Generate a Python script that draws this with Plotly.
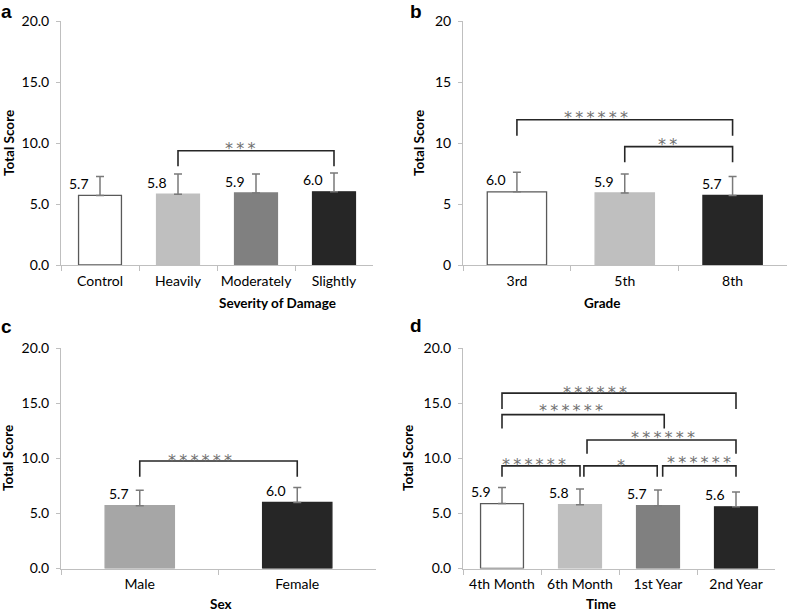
import plotly.graph_objects as go

W, H = 787, 612

# ---------------- data ----------------
cats_a = ["Control", "Heavily", "Moderately", "Slightly"]
vals_a = [5.7, 5.8, 5.9, 6.0]
sd_a = [1.55, 1.65, 1.55, 1.55]

cats_b = ["3rd", "5th", "8th"]
vals_b = [6.0, 5.9, 5.7]
sd_b = [1.6, 1.55, 1.55]

cats_c = ["Male", "Female"]
vals_c = [5.7, 6.0]
sd_c = [1.4, 1.35]

cats_d = ["4th Month", "6th Month", "1st Year", "2nd Year"]
vals_d = [5.9, 5.8, 5.7, 5.6]
sd_d = [1.45, 1.42, 1.43, 1.35]

# significance brackets: (left idx, right idx, line y, leg bottom y, stars, label x, label y)
sig_a = [(1, 3, 9.37, 8.1, "***", 1.79, 9.84)]
sig_b = [(0, 2, 11.9, 10.6, "******", 0.73, 12.38),
         (1, 2, 9.7, 8.42, "**", 1.40, 10.19)]
sig_c = [(0, 1, 9.77, 8.33, "******", 0.38, 10.2)]
sig_d = [(0, 3, 15.93, 14.49, "******", 1.19, 16.38),
         (0, 2.08, 13.98, 12.72, "******", 0.88, 14.67),
         (1.09, 3, 11.67, 10.43, "******", 2.07, 12.27),
         (0, 1, 9.32, 8.33, "******", 0.41, 9.84),
         (1.05, 1.99, 9.32, 8.33, "*", 1.52, 9.71),
         (2.06, 3, 9.32, 8.33, "******", 2.52, 10.02)]

# ---------------- style ----------------
colors_a = ["#ffffff", "#bfbfbf", "#808080", "#262626"]
colors_b = ["#ffffff", "#bfbfbf", "#262626"]
colors_c = ["#a6a6a6", "#262626"]
colors_d = ["#ffffff", "#bfbfbf", "#808080", "#262626"]

FONT = "Lato"
AX = "#bfbfbf"


def fx(px):
    return px / W


def fy(py):
    return 1 - py / H


panels = [
    dict(cats=cats_a, vals=vals_a, sd=sd_a, colors=colors_a, sig=sig_a, width=0.55,
         xd=[61, 373], yd=[265, 21], fmt=".1f", xtitle="Severity of Damage",
         xt=(217, 303), yt=(9, 143), letter="a", lt=(0, 0)),
    dict(cats=cats_b, vals=vals_b, sd=sd_b, colors=colors_b, sig=sig_b, width=0.55,
         xd=[463, 786.5], yd=[265, 21], fmt="d", xtitle="Grade",
         xt=(622, 303), yt=(419, 143), letter="b", lt=(409, 0)),
    dict(cats=cats_c, vals=vals_c, sd=sd_c, colors=colors_c, sig=sig_c, width=0.44,
         xd=[61, 376], yd=[568.5, 348.3], fmt=".1f", xtitle="Sex",
         xt=(208, 604), yt=(8, 458), letter="c", lt=(0, 315)),
    dict(cats=cats_d, vals=vals_d, sd=sd_d, colors=colors_d, sig=sig_d, width=0.55,
         xd=[463, 775], yd=[568.5, 348.3], fmt=".1f", xtitle="Time",
         xt=(618, 604), yt=(408, 458), letter="d", lt=(409, 314)),
]

fig = go.Figure()
annotations = []
shapes = []

for i, p in enumerate(panels):
    n = i + 1
    xa = "x" if n == 1 else f"x{n}"
    ya = "y" if n == 1 else f"y{n}"
    line_cols = ["#595959" if c == "#ffffff" else c for c in p["colors"]]
    fig.add_trace(go.Bar(
        x=p["cats"], y=p["vals"], width=p["width"],
        marker=dict(color=p["colors"], line=dict(color=line_cols, width=1.3)),
        error_y=dict(type="data", array=p["sd"], arrayminus=[0] * len(p["sd"]),
                     symmetric=False, color="#7a7a7a", thickness=1.5, width=4),
        xaxis=xa, yaxis=ya, showlegend=False, hoverinfo="x+y",
    ))

    xkey = "xaxis" if n == 1 else f"xaxis{n}"
    ykey = "yaxis" if n == 1 else f"yaxis{n}"
    fig.layout[xkey] = dict(
        domain=[fx(p["xd"][0]), fx(p["xd"][1])], anchor=ya, type="category",
        range=[-0.5, len(p["cats"]) - 0.5], showline=True, linecolor=AX, linewidth=1,
        ticks="outside", tickson="boundaries", ticklen=5, tickcolor=AX,
        showgrid=False, zeroline=False, automargin=False, tickangle=0,
        ticklabelstandoff=3,
        tickfont=dict(family=FONT, size=14, color="#000000"),
    )
    fig.layout[ykey] = dict(
        domain=[fy(p["yd"][0]), fy(p["yd"][1])], anchor=xa, range=[0, 20],
        tick0=0, dtick=5, tickformat=p["fmt"], showline=True, linecolor=AX,
        linewidth=1, ticks="outside", ticklen=4, tickcolor=AX, showgrid=False,
        zeroline=False, automargin=False, ticklabelstandoff=4,
        tickfont=dict(family=FONT, size=14, color="#000000"),
    )

    # value labels
    for c, v in zip(p["cats"], p["vals"]):
        annotations.append(dict(
            x=c, y=v, xref=xa, yref=ya, text=f"{v:.1f}", showarrow=False,
            xshift=-21, yshift=12, yanchor="middle",
            font=dict(family=FONT, size=14, color="#000000")))

    # significance brackets
    for (l, r, yl, yb, stars, sx, sy) in p["sig"]:
        shapes.append(dict(
            type="path", xref=xa, yref=ya,
            path=f"M {l} {yb} L {l} {yl} L {r} {yl} L {r} {yb}",
            line=dict(color="#262626", width=1.6)))
        annotations.append(dict(
            x=sx, y=sy, xref=xa, yref=ya, text="\u2009".join(stars), showarrow=False,
            yanchor="middle", yshift=-4,
            font=dict(family="DejaVu Sans", size=16, color="#707070")))

    # axis titles
    annotations.append(dict(
        x=fx(p["xt"][0]), y=fy(p["xt"][1]), xref="paper", yref="paper",
        text=f"<b>{p['xtitle']}</b>", showarrow=False, yanchor="middle",
        font=dict(family=FONT, size=13.5, color="#000000")))
    annotations.append(dict(
        x=fx(p["yt"][0]), y=fy(p["yt"][1]), xref="paper", yref="paper",
        text="<b>Total Score</b>", showarrow=False, textangle=-90,
        xanchor="center", yanchor="middle",
        font=dict(family=FONT, size=13.5, color="#000000")))
    # panel letters
    annotations.append(dict(
        x=fx(p["lt"][0]), y=fy(p["lt"][1]), xref="paper", yref="paper",
        text=f"<b>{p['letter']}</b>", showarrow=False, xanchor="left",
        yanchor="top", borderpad=0,
        font=dict(family="Liberation Sans", size=19, color="#000000")))

fig.update_layout(
    width=W, height=H, margin=dict(l=0, r=0, t=0, b=0),
    paper_bgcolor="#ffffff", plot_bgcolor="#ffffff",
    annotations=annotations, shapes=shapes,
    font=dict(family=FONT),
)

fig.write_html(
    "out.html",
    config={"displayModeBar": False},
    post_script="document.body.style.margin='0';document.body.style.padding='0';",
)
